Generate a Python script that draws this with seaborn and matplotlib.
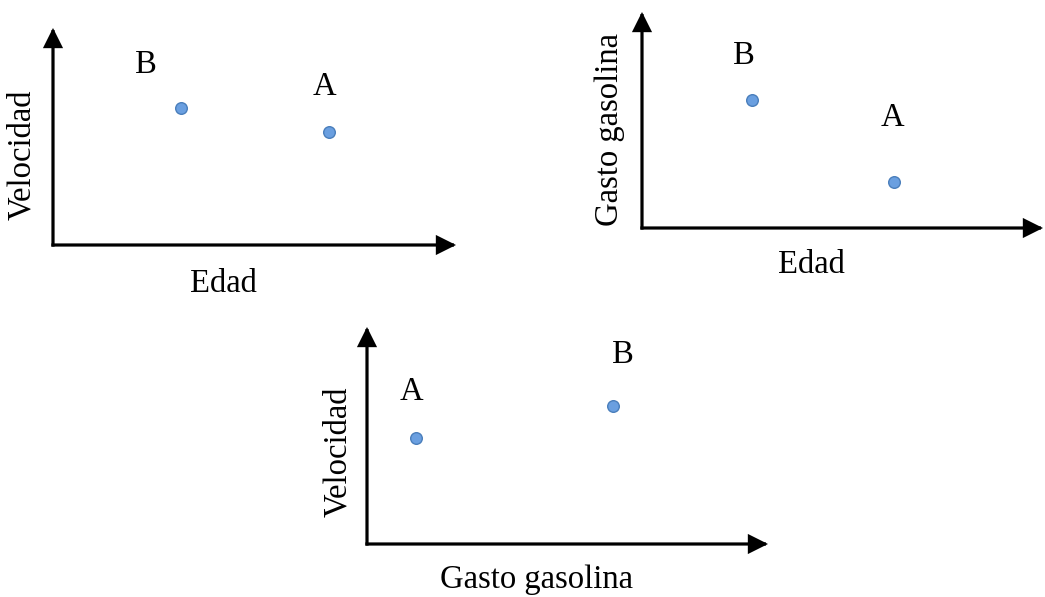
import matplotlib
matplotlib.use("Agg")
import matplotlib.pyplot as plt
import seaborn as sns
import pandas as pd

sns.set_theme(style="white")
plt.rcParams["font.family"] = ["Liberation Serif", "DejaVu Serif"]
plt.rcParams["text.color"] = "black"

# Three schematic scatter panels: two observations (A, B) on each pair of variables
labels = ["A", "B"]

edad_p1 = [6.85, 3.18]
velocidad_p1 = [5.21, 6.31]

edad_p2 = [6.28, 2.74]
gasto_p2 = [2.13, 5.93]

gasto_p3 = [1.22, 6.13]
velocidad_p3 = [4.88, 6.36]

panels = [
    dict(x=edad_p1, y=velocidad_p1, xlabel="Edad", ylabel="Velocidad"),
    dict(x=edad_p2, y=gasto_p2, xlabel="Edad", ylabel="Gasto gasolina"),
    dict(x=gasto_p3, y=velocidad_p3, xlabel="Gasto gasolina", ylabel="Velocidad"),
]

# Layout (pixels): axis origin, arrow tips, label offsets, axis-title positions
W, H = 1045, 597
boxes = [(53, 245, 456, 28), (642, 228, 1043, 12), (367, 544, 768, 327)]
label_offsets = [
    [(-5, 45), (-35, 43)],
    [(-1, 64), (-8, 44)],
    [(-4, 46), (10, 51)],
]
xlabel_pos = [(223, 284), (811, 265), (536, 580)]
ylabel_pos = [(22, 155), (610, 130), (338, 452)]

FS = 23.5
fig = plt.figure(figsize=(W / 100, H / 100), dpi=100)

for p, (ox, oy, tx, ty), offs, xl, yl in zip(panels, boxes, label_offsets, xlabel_pos, ylabel_pos):
    ax = fig.add_axes([ox / W, 1 - oy / H, (tx - ox) / W, (oy - ty) / H])
    ax.set_xlim(0, 10)
    ax.set_ylim(0, 10)
    ax.axis("off")
    df = pd.DataFrame({"x": p["x"], "y": p["y"], "label": labels})
    sns.scatterplot(data=df, x="x", y="y", ax=ax, s=70, color="#6a9fe0",
                    edgecolor="#4a7ebb", linewidth=1.0, clip_on=False, legend=False, zorder=3)
    for (xv, yv, lab), (dx, dy) in zip(zip(df["x"], df["y"], df["label"]), offs):
        ax.annotate(lab, xy=(xv, yv), xytext=(dx * 0.72, dy * 0.72), textcoords="offset points",
                    ha="center", va="center", fontsize=FS, color="black")
    arrow = dict(arrowstyle="-|>", lw=2.3, color="black", mutation_scale=27,
                 shrinkA=0, shrinkB=0, capstyle="projecting", joinstyle="miter")
    ax.annotate("", xy=(1, 0), xytext=(0, 0), xycoords="axes fraction", arrowprops=arrow)
    ax.annotate("", xy=(0, 1), xytext=(0, 0), xycoords="axes fraction", arrowprops=arrow)
    fig.text(xl[0] / W, 1 - xl[1] / H, p["xlabel"], ha="center", va="center",
             fontsize=FS, color="black")
    fig.text(yl[0] / W, 1 - yl[1] / H, p["ylabel"], ha="center", va="center",
             fontsize=FS, rotation=90, color="black")

fig.savefig("out.png", dpi=100, facecolor="white")
